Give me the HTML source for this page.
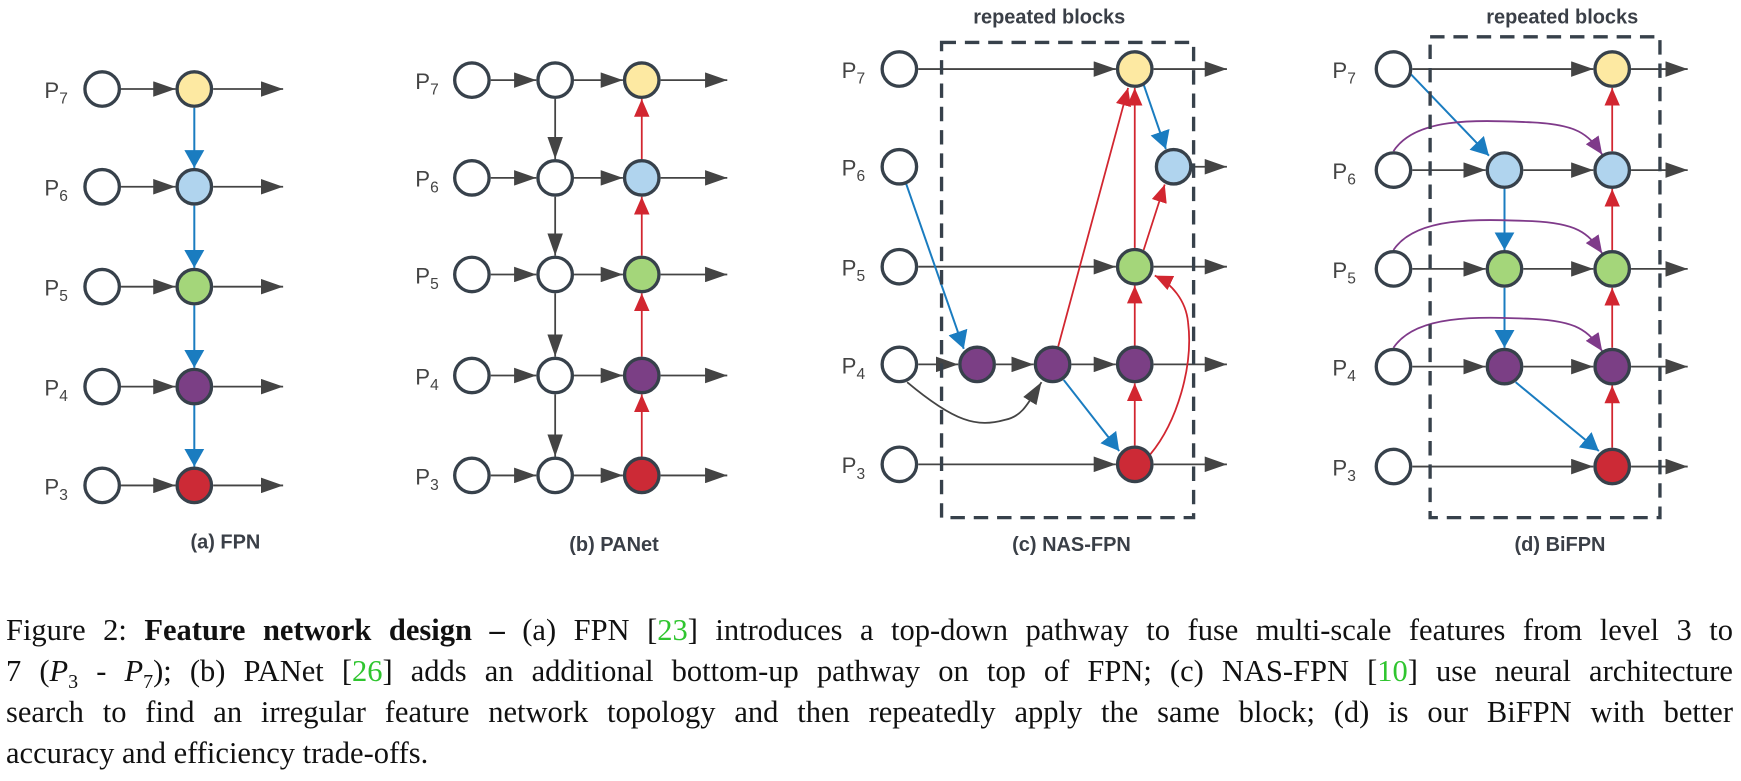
<!DOCTYPE html>
<html><head><meta charset="utf-8"><style>
body{margin:0;background:#fff;width:1741px;height:781px;overflow:hidden;position:relative}
svg{position:absolute;left:0;top:0}
.cap{position:absolute;left:6px;top:610px;width:1727px;font-family:"Liberation Serif",serif;font-size:30.5px;line-height:41px;color:#111}
.cap div{text-align:justify;text-align-last:justify;white-space:nowrap;height:41px}
.cap div.l{text-align-last:left}
.g{color:#2fc52f}
sub{font-size:20px;line-height:0}
</style></head><body>
<svg width="1741" height="600" viewBox="0 0 1568 540">
<defs>
<marker id="agw" markerWidth="20" markerHeight="14" refX="20" refY="7" orient="auto" markerUnits="userSpaceOnUse"><path d="M0,0L20,7L0,14z" fill="#444"/></marker>
<marker id="ab" markerWidth="16" markerHeight="18" refX="16" refY="9" orient="auto" markerUnits="userSpaceOnUse"><path d="M0,0L16,9L0,18z" fill="#1a7cc0"/></marker>
<marker id="ar" markerWidth="16" markerHeight="14" refX="16" refY="7" orient="auto" markerUnits="userSpaceOnUse"><path d="M0,0L16,7L0,14z" fill="#d22630"/></marker>
<marker id="ap" markerWidth="16" markerHeight="14" refX="16" refY="7" orient="auto" markerUnits="userSpaceOnUse"><path d="M0,0L16,7L0,14z" fill="#7f3a8a"/></marker>
</defs>
<g font-family="Liberation Sans,sans-serif" fill="#444">
<g stroke="#444" stroke-width="1.6" fill="none" marker-end="url(#agw)">
<path d="M109,80H158"/><path d="M109,168H158"/><path d="M109,258H158"/><path d="M109,348H158"/><path d="M109,437H158"/>
<path d="M192,80H255"/><path d="M192,168H255"/><path d="M192,258H255"/><path d="M192,348H255"/><path d="M192,437H255"/>
<path d="M442,72H483"/><path d="M442,160H483"/><path d="M442,247H483"/><path d="M442,338H483"/><path d="M442,428H483"/>
<path d="M517,72H561"/><path d="M517,160H561"/><path d="M517,247H561"/><path d="M517,338H561"/><path d="M517,428H561"/>
<path d="M595,72H655"/><path d="M595,160H655"/><path d="M595,247H655"/><path d="M595,338H655"/><path d="M595,428H655"/>
<path d="M500,89V143"/><path d="M500,177V230"/><path d="M500,264V321"/><path d="M500,355V411"/>
<path d="M827,62H1005"/><path d="M827,240H1005"/><path d="M827,328H863"/><path d="M897,328H931"/><path d="M965,328H1005"/><path d="M827,418H1005"/>
<path d="M817,344C860,380 880,385 905,378C920,375 925,365 938,344"/>
<path d="M1039,62H1105"/><path d="M1074,150H1105"/><path d="M1039,240H1105"/><path d="M1039,328H1105"/><path d="M1039,418H1105"/>
<path d="M1272,62H1435"/><path d="M1272,153H1338"/><path d="M1372,153H1435"/><path d="M1272,242H1338"/><path d="M1372,242H1435"/><path d="M1272,330H1338"/><path d="M1372,330H1435"/><path d="M1272,420H1435"/>
<path d="M1469,62H1520"/><path d="M1469,153H1520"/><path d="M1469,242H1520"/><path d="M1469,330H1520"/><path d="M1469,420H1520"/>
</g>
<g stroke="#1a7cc0" stroke-width="1.8" fill="none" marker-end="url(#ab)">
<path d="M175,97V151"/><path d="M175,185V241"/><path d="M175,275V331"/><path d="M175,365V420"/>
<path d="M816,165L868,314"/><path d="M958,342L1008,406"/><path d="M1030,76L1050,134"/>
<path d="M1270,66L1341,140"/><path d="M1355,170V225"/><path d="M1355,259V313"/><path d="M1365,344L1440,406"/>
</g>
<g stroke="#d22630" stroke-width="1.6" fill="none" marker-end="url(#ar)">
<path d="M578,411V355"/><path d="M578,321V264"/><path d="M578,230V177"/><path d="M578,143V89"/>
<path d="M953,312L1016,79"/><path d="M1022,223V79"/><path d="M1030,225L1049,166"/><path d="M1022,311V257"/><path d="M1022,401V345"/>
<path d="M1036,409C1060,380 1075,330 1070,290C1068,270 1055,255 1040,248"/>
<path d="M1452,403V347"/><path d="M1452,313V259"/><path d="M1452,225V170"/><path d="M1452,136V79"/>
</g>
<g stroke="#7f3a8a" stroke-width="1.6" fill="none" marker-end="url(#ap)">
<path d="M1255,136C1275,105 1330,108 1380,110C1420,112 1430,120 1443,139"/>
<path d="M1255,225C1275,195 1330,197 1380,199C1420,201 1430,209 1443,228"/>
<path d="M1255,313C1275,283 1330,285 1380,287C1420,289 1430,297 1443,316"/>
</g>
<g stroke="#37414b" stroke-width="3">
<circle cx="92" cy="80" r="15.5" fill="#fff"/><circle cx="92" cy="168" r="15.5" fill="#fff"/><circle cx="92" cy="258" r="15.5" fill="#fff"/><circle cx="92" cy="348" r="15.5" fill="#fff"/><circle cx="92" cy="437" r="15.5" fill="#fff"/>
<circle cx="175" cy="80" r="15.5" fill="#fde9a2"/><circle cx="175" cy="168" r="15.5" fill="#b0d4ee"/><circle cx="175" cy="258" r="15.5" fill="#a4d67a"/><circle cx="175" cy="348" r="15.5" fill="#7b3f85"/><circle cx="175" cy="437" r="15.5" fill="#cc2a36"/>
<circle cx="425" cy="72" r="15.5" fill="#fff"/><circle cx="425" cy="160" r="15.5" fill="#fff"/><circle cx="425" cy="247" r="15.5" fill="#fff"/><circle cx="425" cy="338" r="15.5" fill="#fff"/><circle cx="425" cy="428" r="15.5" fill="#fff"/>
<circle cx="500" cy="72" r="15.5" fill="#fff"/><circle cx="500" cy="160" r="15.5" fill="#fff"/><circle cx="500" cy="247" r="15.5" fill="#fff"/><circle cx="500" cy="338" r="15.5" fill="#fff"/><circle cx="500" cy="428" r="15.5" fill="#fff"/>
<circle cx="578" cy="72" r="15.5" fill="#fde9a2"/><circle cx="578" cy="160" r="15.5" fill="#b0d4ee"/><circle cx="578" cy="247" r="15.5" fill="#a4d67a"/><circle cx="578" cy="338" r="15.5" fill="#7b3f85"/><circle cx="578" cy="428" r="15.5" fill="#cc2a36"/>
<circle cx="810" cy="62" r="15.5" fill="#fff"/><circle cx="810" cy="150" r="15.5" fill="#fff"/><circle cx="810" cy="240" r="15.5" fill="#fff"/><circle cx="810" cy="328" r="15.5" fill="#fff"/><circle cx="810" cy="418" r="15.5" fill="#fff"/>
<circle cx="1022" cy="62" r="15.5" fill="#fde9a2"/><circle cx="1057" cy="150" r="15.5" fill="#b0d4ee"/><circle cx="1022" cy="240" r="15.5" fill="#a4d67a"/><circle cx="880" cy="328" r="15.5" fill="#7b3f85"/><circle cx="948" cy="328" r="15.5" fill="#7b3f85"/><circle cx="1022" cy="328" r="15.5" fill="#7b3f85"/><circle cx="1022" cy="418" r="15.5" fill="#cc2a36"/>
<circle cx="1255" cy="62" r="15.5" fill="#fff"/><circle cx="1255" cy="153" r="15.5" fill="#fff"/><circle cx="1255" cy="242" r="15.5" fill="#fff"/><circle cx="1255" cy="330" r="15.5" fill="#fff"/><circle cx="1255" cy="420" r="15.5" fill="#fff"/>
<circle cx="1355" cy="153" r="15.5" fill="#b0d4ee"/><circle cx="1355" cy="242" r="15.5" fill="#a4d67a"/><circle cx="1355" cy="330" r="15.5" fill="#7b3f85"/>
<circle cx="1452" cy="62" r="15.5" fill="#fde9a2"/><circle cx="1452" cy="153" r="15.5" fill="#b0d4ee"/><circle cx="1452" cy="242" r="15.5" fill="#a4d67a"/><circle cx="1452" cy="330" r="15.5" fill="#7b3f85"/><circle cx="1452" cy="420" r="15.5" fill="#cc2a36"/>
</g>
<g stroke="#37414b" stroke-width="3" stroke-dasharray="13,8" fill="none">
<rect x="848" y="38" width="227" height="428"/>
<rect x="1288" y="33" width="207" height="433"/>
</g>
<g font-size="20">
<text x="40" y="88">P<tspan font-size="14" dy="5">7</tspan></text><text x="40" y="176">P<tspan font-size="14" dy="5">6</tspan></text><text x="40" y="266">P<tspan font-size="14" dy="5">5</tspan></text><text x="40" y="356">P<tspan font-size="14" dy="5">4</tspan></text><text x="40" y="445">P<tspan font-size="14" dy="5">3</tspan></text>
<text x="374" y="80">P<tspan font-size="14" dy="5">7</tspan></text><text x="374" y="168">P<tspan font-size="14" dy="5">6</tspan></text><text x="374" y="255">P<tspan font-size="14" dy="5">5</tspan></text><text x="374" y="346">P<tspan font-size="14" dy="5">4</tspan></text><text x="374" y="436">P<tspan font-size="14" dy="5">3</tspan></text>
<text x="758" y="70">P<tspan font-size="14" dy="5">7</tspan></text><text x="758" y="158">P<tspan font-size="14" dy="5">6</tspan></text><text x="758" y="248">P<tspan font-size="14" dy="5">5</tspan></text><text x="758" y="336">P<tspan font-size="14" dy="5">4</tspan></text><text x="758" y="426">P<tspan font-size="14" dy="5">3</tspan></text>
<text x="1200" y="70">P<tspan font-size="14" dy="5">7</tspan></text><text x="1200" y="161">P<tspan font-size="14" dy="5">6</tspan></text><text x="1200" y="250">P<tspan font-size="14" dy="5">5</tspan></text><text x="1200" y="338">P<tspan font-size="14" dy="5">4</tspan></text><text x="1200" y="428">P<tspan font-size="14" dy="5">3</tspan></text>
</g>
<g font-size="18" font-weight="bold" fill="#3a3f47" text-anchor="middle">
<text x="203" y="494">(a) FPN</text><text x="553" y="496">(b) PANet</text><text x="965" y="496">(c) NAS-FPN</text><text x="1405" y="496">(d) BiFPN</text>
<text x="945" y="21">repeated blocks</text><text x="1407" y="21">repeated blocks</text>
</g>
</g>
</svg>
<div class="cap">
<div>Figure 2: <b>Feature network design –</b> (a) FPN [<span class="g">23</span>] introduces a top-down pathway to fuse multi-scale features from level 3 to</div>
<div>7 (<i>P</i><sub>3</sub> - <i>P</i><sub>7</sub>); (b) PANet [<span class="g">26</span>] adds an additional bottom-up pathway on top of FPN; (c) NAS-FPN [<span class="g">10</span>] use neural architecture</div>
<div>search to find an irregular feature network topology and then repeatedly apply the same block; (d) is our BiFPN with better</div>
<div class="l">accuracy and efficiency trade-offs.</div>
</div>
</body></html>
